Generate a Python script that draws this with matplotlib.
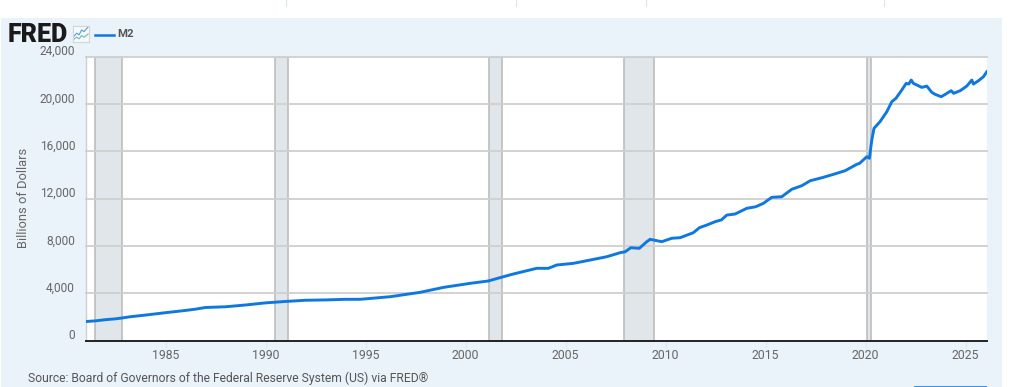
import matplotlib
matplotlib.use("Agg")
import matplotlib.pyplot as plt
from matplotlib.patches import Rectangle
from matplotlib.transforms import ScaledTranslation

plt.rcParams["font.family"] = ["Roboto", "DejaVu Sans"]

W, H = 1024, 387
BLUE = "#0f78e0"
PANEL = "#eaf2fa"
GRID = "#cfcfcf"
TXT = "#666666"

# values (billions of dollars)
years = [1981.0, 1981.5, 1982.0, 1982.5, 1982.9, 1983.2, 1984.0, 1985.0, 1986.0, 1986.5, 1987.0,
         1988.0, 1989.0, 1990.0, 1990.5, 1991.0, 1992.0, 1993.0, 1994.0, 1994.73, 1996.23, 1997.73,
         1998.9, 2000.23, 2001.14, 2001.89, 2002.39, 2003.56, 2004.14, 2004.56, 2005.39, 2006.23,
         2007.06, 2007.73, 2007.98, 2008.26, 2008.69, 2009.06, 2009.23, 2009.81, 2010.31, 2010.73,
         2011.39, 2011.69, 2012.05, 2012.48, 2012.8, 2013.06, 2013.48, 2014.06, 2014.5, 2014.89,
         2015.31, 2015.81, 2016.31, 2016.81, 2017.23, 2017.89, 2018.39, 2018.98, 2019.56, 2019.7,
         2020.06, 2020.19, 2020.31, 2020.42, 2020.72, 2021.06, 2021.31, 2021.52, 2021.81, 2022.03,
         2022.16, 2022.28, 2022.39, 2022.81, 2023.06, 2023.31, 2023.48, 2023.78, 2023.98, 2024.28,
         2024.4, 2024.73, 2025.06, 2025.31, 2025.39, 2025.64, 2025.89, 2026.06]
m2 = [1600, 1660, 1760, 1830, 1920, 2000, 2150, 2350, 2540, 2650, 2790,
      2850, 3000, 3180, 3240, 3300, 3400, 3430, 3480, 3480, 3700, 4070,
      4490, 4830, 5030, 5390, 5620, 6100, 6100, 6380, 6520, 6800,
      7080, 7420, 7500, 7840, 7790, 8350, 8550, 8350, 8640, 8690,
      9110, 9530, 9750, 10040, 10200, 10600, 10690, 11170, 11300, 11590,
      12100, 12150, 12780, 13080, 13500, 13790, 14040, 14350, 14890, 14970,
      15530, 15400, 16940, 17930, 18490, 19330, 20180, 20470, 21170, 21730,
      21670, 22010, 21730, 21390, 21500, 20970, 20800, 20600, 20800, 21110,
      20890, 21110, 21500, 22010, 21670, 21950, 22290, 22710]
rec_start = [1981.45, 1990.45, 2001.15, 2007.9, 2020.05]
rec_end = [1982.8, 1991.12, 2001.82, 2009.4, 2020.25]
yticks = [0, 4000, 8000, 12000, 16000, 20000, 24000]
xticks = [1985, 1990, 1995, 2000, 2005, 2010, 2015, 2020, 2025]
top_marks = [286, 516, 646, 884]

fig = plt.figure(figsize=(W / 100, H / 100), dpi=100, facecolor="white")


def box(x0, y0, x1, y1):
    return [x0 / W, 1 - y1 / H, (x1 - x0) / W, (y1 - y0) / H]


# page background panel and stray page bits
fig.add_artist(Rectangle((1 / W, 0), 1001 / W, 1 - 18 / H, transform=fig.transFigure, color=PANEL, lw=0, zorder=-5))
for mx in top_marks:
    fig.add_artist(Rectangle((mx / W, 1 - 7 / H), 1 / W, 7 / H, transform=fig.transFigure, color="#d5e6ea", lw=0, zorder=-5))
fig.add_artist(Rectangle((914 / W, 0), 73 / W, 1.5 / H, transform=fig.transFigure, color="#3d8fe0", lw=0, zorder=-5))

ax = fig.add_axes(box(85.5, 56.5, 987, 340.5))
ax.set_xlim(1981.0, 2026.07)
ax.set_ylim(0, 24000)
ax.set_facecolor("white")

for s, e in zip(rec_start, rec_end):
    ax.axvspan(s, e, facecolor="#e1e6ea", edgecolor="#bdbdbd", lw=1.2, zorder=1)
for y in yticks[1:]:
    ax.axhline(y, color=GRID, lw=1.3, zorder=2, clip_on=False)

ax.plot(years, m2, color=BLUE, lw=2.1, zorder=3, solid_joinstyle="round")

for side in ["top", "right"]:
    ax.spines[side].set_visible(False)
ax.spines["left"].set_color(GRID)
ax.spines["left"].set_linewidth(1.0)
ax.spines["bottom"].set_color("#222222")
ax.spines["bottom"].set_linewidth(1.4)

ax.set_yticks(yticks)
ax.set_yticklabels([f"{v:,}" for v in yticks], fontsize=8.6, color=TXT, va="bottom")
ax.set_xticks(xticks)
ax.set_xticklabels([str(v) for v in xticks], fontsize=8.8, color=TXT)
ax.tick_params(axis="y", length=0, pad=7.5)
ax.tick_params(axis="x", length=5, width=1, color="#e0e9f2", pad=1.4)
# y labels sit just above their grid lines, nudge them down a bit
shift = ScaledTranslation(0, -1.5 / 100, fig.dpi_scale_trans)
for lab in ax.get_yticklabels():
    lab.set_transform(lab.get_transform() + shift)
ax.set_ylabel("Billions of Dollars", fontsize=9.3, color=TXT)
ax.yaxis.set_label_coords((30 - 85.5) / (987 - 85.5), 0.503)

# header: logo, little chart icon, legend
fig.text(8 / W, 1 - 42 / H, "FRED", fontsize=18, fontweight="black", color="#1a1a1a",
         va="baseline", ha="left")
icon = fig.add_axes(box(72.5, 26, 89, 42))
icon.set_xlim(0, 1)
icon.set_ylim(0, 1)
icon.set_xticks([])
icon.set_yticks([])
for sp in icon.spines.values():
    sp.set_color("#d5d5d5")
    sp.set_linewidth(0.8)
icon.set_facecolor("#f6f9fc")
icon_x = [0.05, 0.25, 0.4, 0.55, 0.7, 0.95]
icon_a = [0.3, 0.55, 0.45, 0.75, 0.65, 0.95]
icon_b = [0.15, 0.3, 0.2, 0.4, 0.3, 0.5]
icon.plot(icon_x, icon_a, color="#5b9bd5", lw=0.8)
icon.plot(icon_x, icon_b, color="#6cbfa8", lw=0.8)

fig.add_artist(plt.Line2D([95 / W, 113.5 / W], [1 - 34.5 / H] * 2, color=BLUE, lw=1.8))
fig.text(117 / W, 1 - 34 / H, "M2", fontsize=8.2, fontweight="bold", color="#555555", va="center")

fig.text(28 / W, 1 - 378 / H, "Source: Board of Governors of the Federal Reserve System (US) via FRED®",
         fontsize=8.7, color="#555555", va="center")

fig.savefig("out.png", dpi=100, facecolor=fig.get_facecolor())
